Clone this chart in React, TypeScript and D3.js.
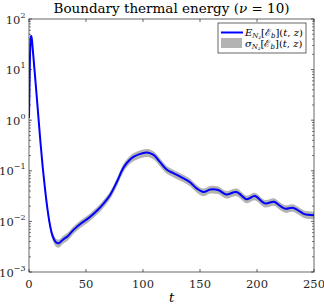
import * as d3 from "d3";

// sample times and mean boundary thermal energy
const tVals = [
  0, 0.4, 0.8, 1.2, 1.6, 2.0, 2.5, 3, 4, 6, 8, 10, 12, 14, 16, 18, 20, 22, 24,
  26, 28, 30, 34, 39, 45, 53, 60, 65, 71, 77, 83, 88, 92, 97, 103, 106, 110,
  115, 121, 127, 135, 141, 147, 153, 159, 166, 173, 182, 191, 198, 207, 215,
  220, 225, 231, 236, 241, 245, 250,
];
const meanVals = [
  1.1, 4, 15, 32, 44, 46, 40, 30, 16.5, 4.8, 1.35, 0.38, 0.12, 0.045, 0.019,
  0.0095, 0.0058, 0.0044, 0.0038, 0.0037, 0.004, 0.0044, 0.0051, 0.0068,
  0.0089, 0.012, 0.0166, 0.022, 0.033, 0.06, 0.117, 0.162, 0.19, 0.214, 0.229,
  0.224, 0.2, 0.148, 0.105, 0.089, 0.072, 0.06, 0.045, 0.038, 0.0427, 0.0417,
  0.034, 0.038, 0.0275, 0.0316, 0.0227, 0.0245, 0.0204, 0.0178, 0.0186,
  0.0166, 0.0141, 0.0135, 0.0132,
];
// relative spread (sigma / mean)
const sigmaRel = [
  0.02, 0.03, 0.04, 0.05, 0.06, 0.06, 0.06, 0.06, 0.06, 0.06, 0.07, 0.08, 0.1,
  0.12, 0.14, 0.16, 0.17, 0.18, 0.18, 0.18, 0.18, 0.18, 0.18, 0.17, 0.17,
  0.17, 0.17, 0.17, 0.17, 0.18, 0.18, 0.18, 0.18, 0.18, 0.18, 0.18, 0.18,
  0.18, 0.17, 0.17, 0.17, 0.17, 0.17, 0.17, 0.17, 0.17, 0.17, 0.17, 0.17,
  0.17, 0.17, 0.17, 0.17, 0.17, 0.17, 0.17, 0.17, 0.17, 0.17,
];

const xTicks = [0, 50, 100, 150, 200, 250];
const yExponents = [-3, -2, -1, 0, 1, 2];

const W = 324;
const H = 306;
const left = 29;
const right = 314;
const top = 19;
const bottom = 272;
const axisColor = "#262626";
const font = "'DejaVu Serif', serif";

export default function App() {
  const x = d3.scaleLinear().domain([0, 250]).range([left, right]);
  const y = d3.scaleLog().domain([1e-3, 1e2]).range([bottom, top]);

  const pts = tVals.map((t, i) => ({ t, m: meanVals[i], s: sigmaRel[i] * meanVals[i] }));

  const line = d3
    .line<(typeof pts)[number]>()
    .x((d) => x(d.t))
    .y((d) => y(d.m))
    .curve(d3.curveCatmullRom);

  const band = d3
    .area<(typeof pts)[number]>()
    .x((d) => x(d.t))
    .y0((d) => y(d.m - d.s))
    .y1((d) => y(d.m + d.s))
    .curve(d3.curveCatmullRom);

  const minor: number[] = [];
  for (let e = -3; e < 2; e++) {
    for (let k = 2; k <= 9; k++) minor.push(k * Math.pow(10, e));
  }

  return (
    <svg
      width={W}
      height={H}
      style={{ position: "absolute", left: 0, top: 0, background: "#fff", fontFamily: font }}
    >
      <defs>
        <clipPath id="plot">
          <rect x={left} y={top} width={right - left} height={bottom - top} />
        </clipPath>
      </defs>

      <g clipPath="url(#plot)">
        <path d={band(pts) || ""} fill="#b3b3b3" stroke="none" />
        <path d={line(pts) || ""} fill="none" stroke="#0000ff" strokeWidth={2} />
      </g>

      {/* box */}
      <rect
        x={left}
        y={top}
        width={right - left}
        height={bottom - top}
        fill="none"
        stroke={axisColor}
        strokeWidth={0.7}
      />

      {/* x ticks */}
      {xTicks.map((t) => (
        <g key={"x" + t}>
          <line x1={x(t)} x2={x(t)} y1={bottom} y2={bottom - 3} stroke={axisColor} strokeWidth={0.7} />
          <line x1={x(t)} x2={x(t)} y1={top} y2={top + 3} stroke={axisColor} strokeWidth={0.7} />
          <text x={x(t)} y={288} textAnchor="middle" fontSize={11.5} fill="#262626">
            {t}
          </text>
        </g>
      ))}

      {/* y major ticks */}
      {yExponents.map((e) => {
        const yy = y(Math.pow(10, e));
        return (
          <g key={"y" + e}>
            <line x1={left} x2={left + 3} y1={yy} y2={yy} stroke={axisColor} strokeWidth={0.7} />
            <line x1={right} x2={right - 3} y1={yy} y2={yy} stroke={axisColor} strokeWidth={0.7} />
            <text x={25.5} y={yy + 4.5} textAnchor="end" fontSize={11.5} fill="#262626">
              10
              <tspan fontSize={8} dy={-6}>
                {e < 0 ? "\u2212" + Math.abs(e) : e}
              </tspan>
            </text>
          </g>
        );
      })}

      {/* y minor ticks */}
      {minor.map((v, i) => (
        <g key={"m" + i}>
          <line x1={left} x2={left + 2} y1={y(v)} y2={y(v)} stroke={axisColor} strokeWidth={0.6} />
          <line x1={right} x2={right - 2} y1={y(v)} y2={y(v)} stroke={axisColor} strokeWidth={0.6} />
        </g>
      ))}

      {/* title */}
      <text x={(left + right) / 2} y={13} textAnchor="middle" fontSize={13.5} fill="#000">
        Boundary thermal energy (<tspan fontStyle="italic">ν</tspan> = 10)
      </text>

      {/* x label */}
      <text x={(left + right) / 2} y={302} textAnchor="middle" fontSize={13} fontStyle="italic">
        t
      </text>

      {/* legend */}
      <rect x={218} y={23} width={88} height={30} fill="#fff" stroke={axisColor} strokeWidth={0.7} />
      <line x1={221} x2={243} y1={32.5} y2={32.5} stroke="#0000ff" strokeWidth={2} />
      <rect x={221} y={38} width={21} height={10} fill="#b3b3b3" />
      <text x={245} y={36} fontSize={10}>
        <tspan fontStyle="italic">E</tspan>
        <tspan fontSize={7} dy={2} fontStyle="italic">N</tspan>
        <tspan fontSize={5} dy={1.2} fontStyle="italic">z</tspan>
        <tspan dy={-3.2}>[ℰ</tspan>
        <tspan fontSize={7} dy={2} fontStyle="italic">b</tspan>
        <tspan dy={-2}>](</tspan>
        <tspan fontStyle="italic">t</tspan>
        <tspan>, </tspan>
        <tspan fontStyle="italic">z</tspan>
        <tspan>)</tspan>
      </text>
      <text x={245} y={47} fontSize={10}>
        <tspan fontStyle="italic">σ</tspan>
        <tspan fontSize={7} dy={2} fontStyle="italic">N</tspan>
        <tspan fontSize={5} dy={1.2} fontStyle="italic">z</tspan>
        <tspan dy={-3.2}>[ℰ</tspan>
        <tspan fontSize={7} dy={2} fontStyle="italic">b</tspan>
        <tspan dy={-2}>](</tspan>
        <tspan fontStyle="italic">t</tspan>
        <tspan>, </tspan>
        <tspan fontStyle="italic">z</tspan>
        <tspan>)</tspan>
      </text>
    </svg>
  );
}
